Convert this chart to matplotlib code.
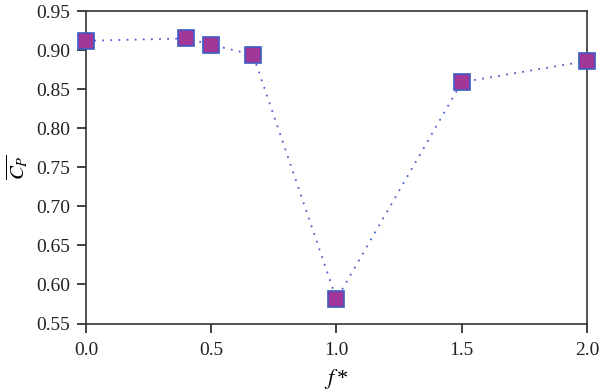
import matplotlib
matplotlib.use("Agg")
import matplotlib.pyplot as plt

f_star = [0.0, 0.4, 0.5, 0.667, 1.0, 1.5, 2.0]
cp_mean = [0.912, 0.915, 0.907, 0.894, 0.581, 0.859, 0.886]

plt.rcParams['font.family'] = ['Liberation Serif', 'DejaVu Serif']
plt.rcParams['mathtext.fontset'] = 'stix'

fig = plt.figure(figsize=(6, 3.92), dpi=100)
ax = fig.add_axes([0.1433, 0.1747, 0.835, 0.797])

ax.plot(f_star, cp_mean, linestyle=(0, (1, 3.5)), color='#4a5fd0', linewidth=1.3,
        marker='s', markersize=11, markerfacecolor='#a2379a',
        markeredgecolor='#3c5cc4', markeredgewidth=1.2, clip_on=False, zorder=3)

ax.set_xlim(0, 2)
ax.set_ylim(0.55, 0.95)
ax.set_xticks([0.0, 0.5, 1.0, 1.5, 2.0])
ax.set_xticklabels(['0.0', '0.5', '1.0', '1.5', '2.0'])
yt = [0.55, 0.60, 0.65, 0.70, 0.75, 0.80, 0.85, 0.90, 0.95]
ax.set_yticks(yt)
ax.set_yticklabels(['%.2f' % v for v in yt])
ax.tick_params(direction='out', length=6.5, width=1.2, labelsize=14, colors='#222222', pad=5)
ax.tick_params(axis='x', pad=7)
ax.tick_params(top=False, right=False)
for s in ax.spines.values():
    s.set_linewidth(1.2)
    s.set_color('#333333')

ax.set_xlabel(r'$f\,$*', fontsize=16)
ax.xaxis.set_label_coords(0.5, -0.14)
ax.set_ylabel(r'$\overline{C_P}$', fontsize=15)
ax.yaxis.set_label_coords(-0.112, 0.5)

fig.savefig('out.png', dpi=100)
